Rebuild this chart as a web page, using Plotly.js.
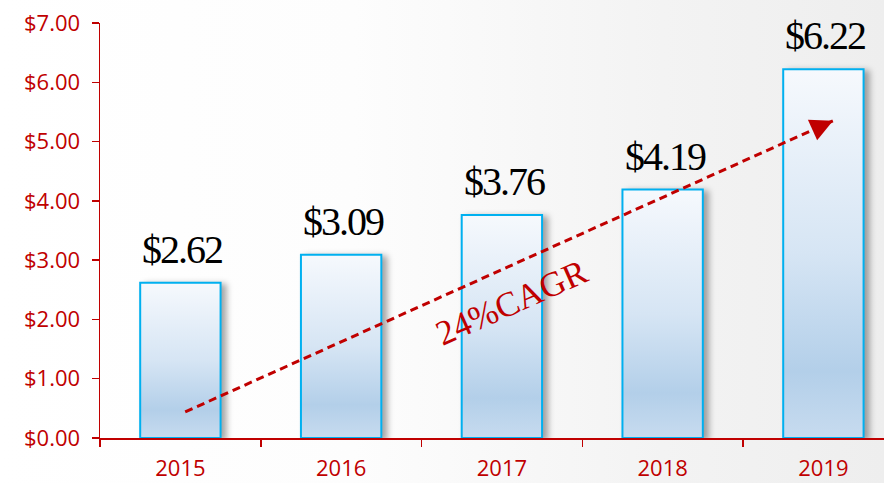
<!DOCTYPE html>
<html>
<head>
<meta charset="utf-8">
<script src="https://cdn.plot.ly/plotly-3.0.1.min.js"></script>
<style>
  html, body { margin: 0; padding: 0; }
  body { width: 884px; height: 483px; overflow: hidden;
         background: linear-gradient(90deg, #ffffff 0%, #fdfdfd 40%, #f3f3f3 75%, #eeeeee 100%); }
  #chart { width: 884px; height: 483px; }
  .trace.bars .point path { filter: drop-shadow(5px 2px 3px rgba(0,0,0,0.35)); }
</style>
</head>
<body>
<div id="chart"></div>
<script>
// ---- data ----
const years = ['2015', '2016', '2017', '2018', '2019'];
const values = [2.62, 3.09, 3.76, 4.19, 6.22];
const valueLabels = ['$2.62', '$3.09', '$3.76', '$4.19', '$6.22'];
const yTickVals = [0, 1, 2, 3, 4, 5, 6, 7];
const yTickText = ['$0.00', '$1.00', '$2.00', '$3.00', '$4.00', '$5.00', '$6.00', '$7.00'];
const cagrText = '24%CAGR';

// ---- styling ----
const RED = '#c00000';
const arrowFrom = {x: 0.03, y: 0.44};
const arrowTo = {x: 4.06, y: 5.35};

const trace = {
  type: 'bar',
  x: years,
  y: values,
  marker: { color: '#cfe0f1', line: { color: '#00b0f0', width: 2 } },
  hoverinfo: 'skip'
};

const annotations = years.map((yr, i) => ({
  x: i, y: values[i], xref: 'x', yref: 'y',
  text: valueLabels[i], showarrow: false,
  xanchor: 'center', yanchor: 'bottom', yshift: 9, xshift: 2,
  font: { family: 'Liberation Serif, Times New Roman, serif', size: 40, color: '#000000' }
}));

annotations.push({
  x: arrowTo.x, y: arrowTo.y, xref: 'x', yref: 'y',
  ax: -20, ay: 9, axref: 'pixel', ayref: 'pixel',
  text: '', showarrow: true, arrowhead: 2, arrowsize: 1.5, arrowwidth: 3,
  arrowcolor: RED, standoff: 0, startstandoff: 0
});

annotations.push({
  x: 2.063, y: 2.28, xref: 'x', yref: 'y',
  text: cagrText, showarrow: false, textangle: -24,
  xanchor: 'center', yanchor: 'middle',
  font: { family: 'Liberation Serif, Times New Roman, serif', size: 35, color: RED }
});

const layout = {
  width: 884, height: 483,
  margin: { l: 100, r: 0, t: 23, b: 45 },
  paper_bgcolor: 'rgba(0,0,0,0)',
  plot_bgcolor: 'rgba(0,0,0,0)',
  showlegend: false,
  bargap: 0.5,
  xaxis: {
    type: 'category',
    range: [-0.5, 4.377],
    showline: true, linecolor: RED, linewidth: 1.5,
    ticks: 'outside', tickson: 'boundaries', ticklen: 7, tickcolor: RED, tickwidth: 1.5,
    ticklabelstandoff: 10,
    tickfont: { family: 'Open Sans, sans-serif', size: 22, color: RED },
    showgrid: false, zeroline: false, fixedrange: true
  },
  yaxis: {
    range: [0, 7],
    tickvals: yTickVals, ticktext: yTickText,
    showline: true, linecolor: RED, linewidth: 1.5,
    ticks: 'outside', ticklen: 7, tickcolor: RED, tickwidth: 1.5,
    ticklabelstandoff: 7,
    tickfont: { family: 'Open Sans, sans-serif', size: 22, color: RED },
    showgrid: false, zeroline: false, fixedrange: true
  },
  shapes: [{
    type: 'line', xref: 'x', yref: 'y',
    x0: arrowFrom.x, y0: arrowFrom.y, x1: arrowTo.x, y1: arrowTo.y,
    line: { color: RED, width: 3, dash: '8px,5px' },
    layer: 'above'
  }],
  annotations: annotations
};

Plotly.newPlot('chart', [trace], layout, { staticPlot: true, displayModeBar: false }).then(gd => {
  const svg = gd.querySelector('.main-svg');
  let defs = svg.querySelector('defs');
  if (!defs) { defs = document.createElementNS('http://www.w3.org/2000/svg', 'defs'); svg.insertBefore(defs, svg.firstChild); }
  const ns = 'http://www.w3.org/2000/svg';
  const grad = document.createElementNS(ns, 'linearGradient');
  grad.setAttribute('id', 'barGrad');
  grad.setAttribute('x1', '0'); grad.setAttribute('y1', '0');
  grad.setAttribute('x2', '0'); grad.setAttribute('y2', '1');
  [['0', '#f6f9fd'], ['0.5', '#d6e5f4'], ['0.82', '#b3cfe9'], ['1', '#c7dbef']].forEach(([o, c]) => {
    const s = document.createElementNS(ns, 'stop');
    s.setAttribute('offset', o); s.setAttribute('stop-color', c);
    grad.appendChild(s);
  });
  defs.appendChild(grad);
  gd.querySelectorAll('.trace.bars .point path').forEach(p => { p.style.fill = 'url(#barGrad)'; });
  gd.querySelectorAll('.annotation-text').forEach(t => {
    if (t.textContent.charAt(0) === '$') t.style.letterSpacing = '-2px';
  });
});
</script>
</body>
</html>
